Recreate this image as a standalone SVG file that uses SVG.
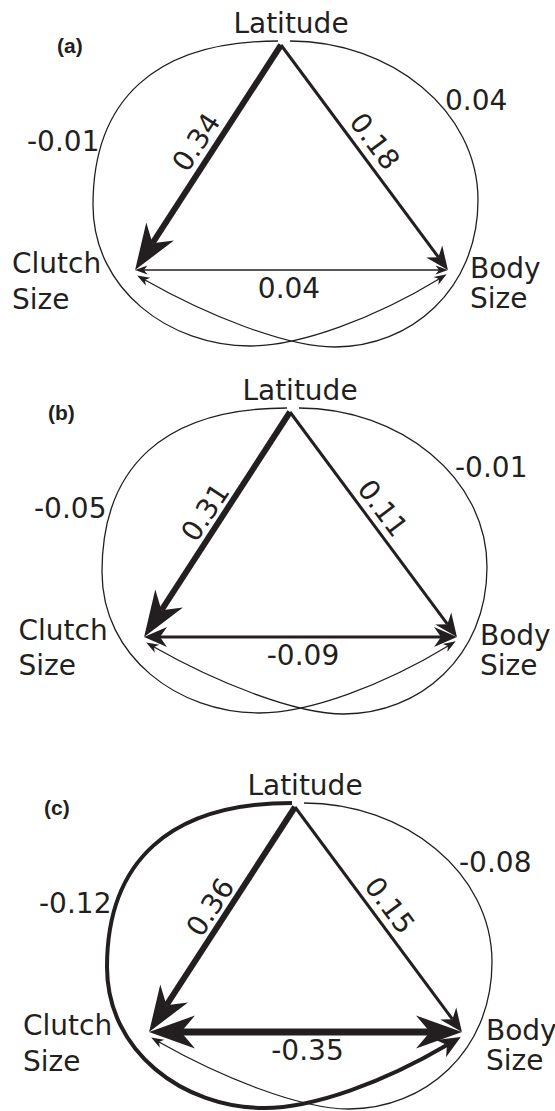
<svg xmlns="http://www.w3.org/2000/svg" width="555" height="1111" viewBox="0 0 555 1111">
<style>
.lbl{font-family:"DejaVu Sans","Liberation Sans",sans-serif;font-size:28px;fill:#231f20}
.pl{font-family:"Liberation Sans",Arial,sans-serif;font-size:21px;font-weight:bold;fill:#231f20}
.mid{text-anchor:middle}
.ln{fill:none;stroke:#231f20;stroke-linecap:butt}
.thin{stroke-width:1.3}
.med{stroke-width:3}
.thick{stroke-width:6}
.xthick{stroke-width:7}
.curv{stroke-width:4}
.hd{fill:#231f20;stroke:none}
</style>
<defs>
<marker id="mBig" markerUnits="userSpaceOnUse" orient="auto-start-reverse" overflow="visible" markerWidth="60" markerHeight="40" refX="0" refY="0">
<path class="hd" d="M32,0 L-14,-16.5 L0,0 L-14,16.5 Z"/>
</marker>
<marker id="mMed" markerUnits="userSpaceOnUse" orient="auto-start-reverse" overflow="visible" markerWidth="30" markerHeight="24" refX="0" refY="0">
<path class="hd" d="M16,0 L-7,-10 L0,0 L-7,10 Z"/>
</marker>
<marker id="mSmall" markerUnits="userSpaceOnUse" orient="auto-start-reverse" overflow="visible" markerWidth="16" markerHeight="12" refX="0" refY="0">
<path class="hd" d="M9,0 L-3.5,-4.5 L0,0 L-3.5,4.5 Z"/>
</marker>
</defs>

<!-- Panel (a) -->
<g id="panel-a">
<text class="pl" x="57" y="53">(a)</text>
<g id="a-connectors">
<path class="ln thin" d="M278,41 C155,41 93,100 93,205 C93,290 170,346 250,346 C300,346 375,318 439,279" marker-end="url(#mSmall)"/>
<path class="ln thin" d="M290,41 C390,41 478,110 478,200 C478,290 410,347 335,347 C285,347 205,314 145,280" marker-end="url(#mSmall)"/>
<path class="ln thick" d="M281,45 L152.5,243.2" marker-end="url(#mBig)"/>
<path class="ln med" d="M281,45 L438.4,257.2" marker-end="url(#mMed)"/>
<path class="ln thin" d="M144,270 L439,270" marker-start="url(#mSmall)" marker-end="url(#mSmall)"/>
<text class="lbl" x="27" y="151">-0.01</text>
<text class="lbl" x="445" y="110">0.04</text>
<g transform="translate(196,142) rotate(-56.9)"><text class="lbl mid" x="0" y="10">0.34</text></g>
<g transform="translate(375,141) rotate(53.3)"><text class="lbl mid" x="0" y="10">0.18</text></g>
<text class="lbl mid" x="289" y="298">0.04</text>
</g>
<g id="a-latitude"><text class="lbl mid" x="291" y="33">Latitude</text></g>
<g id="a-clutch"><text class="lbl" x="12" y="273">Clutch</text><text class="lbl" x="12" y="309">Size</text></g>
<g id="a-body"><text class="lbl" x="470" y="278">Body</text><text class="lbl" x="470" y="308">Size</text></g>
</g>

<!-- Panel (b) -->
<g id="panel-b" transform="translate(9,367)">
<text class="pl" x="39" y="53">(b)</text>
<g id="b-connectors">
<path class="ln thin" d="M278,41 C155,41 93,100 93,205 C93,290 170,346 250,346 C300,346 375,318 439,279" marker-end="url(#mSmall)"/>
<path class="ln thin" d="M290,41 C390,41 478,110 478,200 C478,290 410,347 335,347 C285,347 205,314 145,280" marker-end="url(#mSmall)"/>
<path class="ln thick" d="M281,45 L152.5,243.2" marker-end="url(#mBig)"/>
<path class="ln med" d="M281,45 L438.4,257.2" marker-end="url(#mMed)"/>
<path class="ln med" d="M151,270 L432,270" marker-start="url(#mMed)" marker-end="url(#mMed)"/>
<text class="lbl" x="25" y="151">-0.05</text>
<text class="lbl" x="446" y="110">-0.01</text>
<g transform="translate(196,145) rotate(-56.4)"><text class="lbl mid" x="0" y="10">0.31</text></g>
<g transform="translate(374,141) rotate(53.1)"><text class="lbl mid" x="0" y="10">0.11</text></g>
<text class="lbl mid" x="294" y="298">-0.09</text>
</g>
<g id="b-latitude"><text class="lbl mid" x="291" y="33">Latitude</text></g>
<g id="b-clutch"><text class="lbl" x="9.5" y="273">Clutch</text><text class="lbl" x="9.5" y="308">Size</text></g>
<g id="b-body"><text class="lbl" x="471" y="278">Body</text><text class="lbl" x="471" y="308">Size</text></g>
</g>

<!-- Panel (c) -->
<g id="panel-c" transform="translate(14,762)">
<text class="pl" x="30" y="53">(c)</text>
<g id="c-connectors">
<path class="ln curv" d="M278,41 C155,41 93,100 93,205 C93,290 170,346 250,346 C300,346 370,320 433,283" marker-end="url(#mMed)"/>
<path class="ln thin" d="M290,41 C390,41 478,110 478,200 C478,290 410,347 335,347 C285,347 205,314 145,280" marker-end="url(#mSmall)"/>
<path class="ln thick" d="M281,45 L152.5,243.2" marker-end="url(#mBig)"/>
<path class="ln med" d="M281,45 L438.4,257.2" marker-end="url(#mMed)"/>
<path class="ln xthick" d="M167,270 L416,270" marker-start="url(#mBig)" marker-end="url(#mBig)"/>
<text class="lbl" x="25" y="151">-0.12</text>
<text class="lbl" x="445" y="110">-0.08</text>
<g transform="translate(196,145) rotate(-56.8)"><text class="lbl mid" x="0" y="10">0.36</text></g>
<g transform="translate(376,143) rotate(53.3)"><text class="lbl mid" x="0" y="10">0.15</text></g>
<text class="lbl mid" x="293.5" y="298">-0.35</text>
</g>
<g id="c-latitude"><text class="lbl mid" x="291" y="33">Latitude</text></g>
<g id="c-clutch"><text class="lbl" x="9" y="273">Clutch</text><text class="lbl" x="9" y="309">Size</text></g>
<g id="c-body"><text class="lbl" x="472" y="278">Body</text><text class="lbl" x="472" y="308">Size</text></g>
</g>
</svg>
